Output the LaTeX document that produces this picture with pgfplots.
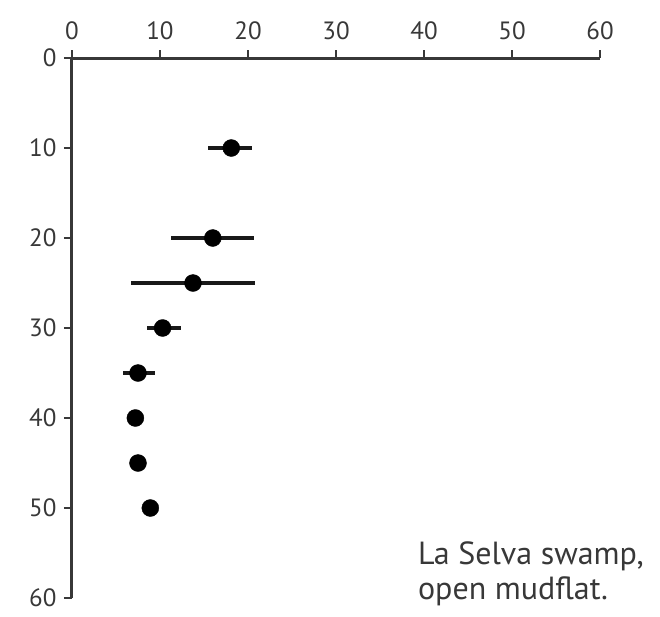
\documentclass[border=0pt]{standalone}
\usepackage{pgfplots}
\pgfplotsset{compat=1.18}
\usepackage{pgfplotstable}
\usepackage{fontspec}
\setmainfont{PT Sans}
\definecolor{ink}{gray}{0.22}
\pgfplotstableread{
x y em ep
18.1 10 2.6 2.4
16.0 20 4.7 4.7
13.75 25 7.0 7.1
10.3 30 1.8 2.1
7.5 35 1.7 1.9
7.2 40 0.5 0.9
7.5 45 0 0
8.9 50 0 0
}\datatab
\begin{document}
\begin{tikzpicture}
\path[use as bounding box] (-72pt,58pt) rectangle (588pt,-558pt);
\begin{axis}[
  at={(0pt,0pt)}, anchor=north west,
  scale only axis, width=528pt, height=540pt,
  xmin=0, xmax=60, ymin=0, ymax=60,
  y dir=reverse,
  axis x line*=top, axis y line*=left,
  axis line style={-, line width=3pt, color=ink},
  xtick={0,10,...,60}, ytick={0,10,...,60},
  tick align=outside, major tick length=8pt,
  tick style={line width=2pt, color=ink},
  ticklabel style={font=\fontsize{25}{29}\selectfont, text=ink},
  xticklabel style={yshift=7pt},
  yticklabel style={xshift=-4pt},
  /pgf/number format/assume math mode=true,
  xticklabel pos=right,
  clip=false,
]
\addplot[only marks, mark=*, mark size=8.5pt, color=black,
  error bars/.cd, x dir=both, x explicit, error mark=none,
  error bar style={line width=4pt, color=black!90}]
  table[x=x, y=y, x error minus=em, x error plus=ep]{\datatab};
\node[anchor=base west, inner sep=0pt, text=ink, font=\fontsize{32}{37}\selectfont] at (axis cs:39.3,56.3) {La Selva swamp,};
\node[anchor=base west, inner sep=0pt, text=ink, font=\fontsize{32}{37}\selectfont] at (axis cs:39.3,60.2) {open mudflat.};
\end{axis}
\end{tikzpicture}
\end{document}
